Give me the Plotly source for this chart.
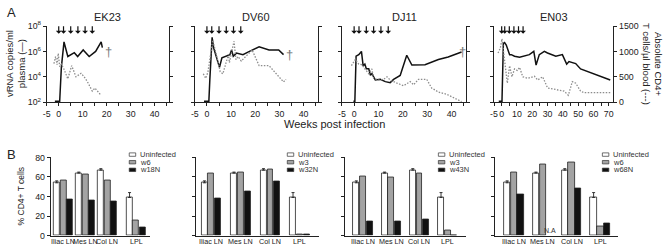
import numpy as np
import plotly.graph_objects as go

W, H = 664, 251
FONT = "Liberation Sans, Arial, sans-serif"

# ---------------- Panel A data ----------------
animals = ["EK23", "DV60", "DJ11", "EN03"]
inoculation_weeks = [0, 2, 5, 8, 11, 14]

ek23_vl_wk = [-1.6, 0.4, 1.1, 2.2, 3.8, 6.5, 7.9, 10.2, 12.7, 15.4, 17.7, 18.2]
ek23_vl = [1.2e2, 1.2e2, 5.6e4, 5.6e6, 4.0e5, 8.0e5, 4.0e5, 1.3e6, 4.0e5, 1.0e6, 5.6e6, 2.0e6]
ek23_cd4_wk = [-2, -1.3, -0.7, -0.2, 0.4, 1.1, 2.2, 3.8, 5.4, 7.2, 9.3, 10.6, 12, 14, 15.1, 17.4]
ek23_cd4 = [760, 900, 740, 960, 700, 750, 650, 460, 720, 500, 570, 500, 400, 220, 280, 150]

dv60_vl_wk = [-1.2, 0.8, 1.2, 2.15, 2.8, 5.2, 6.2, 8.2, 9.5, 10.2, 10.9, 12.2, 14.9, 17.6, 21.6, 25.7, 29.7, 31.7]
dv60_vl = [1.2e2, 1.2e2, 5.6e3, 1.3e7, 1.8e6, 5.6e4, 3.2e5, 4.2e5, 5.6e5, 1.3e6, 4.2e5, 7.4e5,
           5.6e5, 1.0e6, 2.3e6, 1.3e6, 1.3e6, 5.6e5]
dv60_cd4_wk = [-1.5, -0.5, 0.4, 2.4, 3.9, 5.5, 6.6, 8.9, 9.3, 10.2, 11.2, 12, 12.9, 14.2, 18.7, 21.6, 25.7, 31.7, 32.7]
dv60_cd4 = [560, 470, 590, 1220, 940, 600, 560, 940, 780, 1000, 1200, 840, 900, 810, 1030, 720, 720, 400, 450]

dj11_vl_wk = [-0.3, 0.3, 0.8, 1.9, 3.0, 3.7, 4.4, 5.0, 6.0, 6.7, 7.3, 8.7, 10.7, 12.8, 14.8, 16.2,
              18.9, 21.6, 23.7, 29.1, 34.6, 38.6, 44.1]
dj11_vl = [1.2e2, 1.2e2, 4.2e5, 5.6e5, 1.0e6, 7.4e4, 1.0e5, 4.3e4, 4.3e4, 1.3e4, 1.8e4, 5.6e3, 6.3e3,
           4.2e3, 3.5e3, 6.3e3, 1.3e4, 5.0e5, 8.5e4, 8.9e4, 2.3e5, 3.7e5, 8.9e5]
dj11_cd4_wk = [-1.1, 0.5, 1.9, 3.3, 4.4, 5.3, 6.0, 7.3, 8.0, 10.1, 12.1, 13.5, 14.8, 17.6, 20.3, 23.0,
               24.4, 26.4, 29.8, 31.8, 34.6, 38.0, 40.7, 44.1]
dj11_cd4 = [719, 844, 750, 737, 656, 594, 562, 656, 469, 437, 450, 500, 437, 375, 325, 406,
            343, 450, 450, 281, 200, 156, 94, 12]

en03_vl_wk = [-1.9, 0.2, 1.1, 1.9, 3.0, 5.2, 6.3, 8.4, 11.7, 14.9, 18.1, 21.0, 22.5, 24.6, 27.9, 30.0,
              32.2, 35.4, 39.7, 42.5, 44.0, 48.4, 51.6, 60.3, 71.0]
en03_vl = [1.2e2, 1.2e2, 4.3e6, 5.0e6, 3.2e6, 5.6e5, 5.6e5, 4.2e5, 3.5e5, 4.2e5, 5.6e5, 1.0e6, 8.5e4,
           5.6e5, 1.0e6, 7.5e5, 5.6e5, 4.2e5, 5.6e5, 1.0e5, 1.6e5, 1.1e5, 4.2e4, 1.8e4, 5.6e3]
en03_cd4_wk = [-2.4, -0.9, 0.2, 1.3, 2.4, 3.7, 5.2, 6.7, 8.4, 10.2, 11.7, 13.8, 17.1, 21.4, 23.5, 26.8,
               30.0, 35.4, 40.8, 43.6, 46.2, 48.4, 51.6, 53.8, 71.0]
en03_cd4 = [969, 1062, 1250, 1000, 656, 375, 719, 500, 656, 625, 687, 500, 469, 512, 437, 500,
            281, 250, 219, 137, 406, 375, 219, 187, 187]

vl_weeks = [ek23_vl_wk, dv60_vl_wk, dj11_vl_wk, en03_vl_wk]
vl_values = [ek23_vl, dv60_vl, dj11_vl, en03_vl]
cd4_weeks = [ek23_cd4_wk, dv60_cd4_wk, dj11_cd4_wk, en03_cd4_wk]
cd4_values = [ek23_cd4, dv60_cd4, dj11_cd4, en03_cd4]
death_week = [20.8, 34.1, 44.4, None]
death_vl = [1.0e6, 5.6e5, 1.0e6, None]
week_max = [46, 46, 46, 73]

log_tickvals = [1e2, 1e4, 1e6, 1e8]
log_ticktext = ["10<sup>2</sup>", "10<sup>4</sup>", "10<sup>6</sup>", "10<sup>8</sup>"]
cd4_ticks = [0, 500, 1000, 1500]

# ---------------- Panel B data ----------------
tissues = ["Iliac LN", "Mes LN", "Col LN", "LPL"]
uninfected = [54, 64, 67, 39]
uninfected_err = [2, 1, 1.5, 5]
early_labels = ["w6", "w3", "w3", "w6"]
early_values = [[56, 63, 56, 15], [64, 65, 68, 1.5], [61, 60, 64, 5], [65, 73, 75, 9]]
late_labels = ["w18N", "w32N", "w43N", "w68N"]
late_values = [[37, 36, 35, 8], [38, 45, 55, 1], [14, 14, 16, 0], [42, None, 48, 12]]
pct_ticks = [0, 20, 40, 60, 80]

# ---------------- layout geometry (pixels) ----------------
A_x = [(43, 166), (192, 316), (340, 465), (493, 613)]
A_y = (20, 100)
B_x = [(47, 147), (193, 317), (343, 465), (494, 618)]
B_y = (158, 240)
B_zero = [59.7, 208.5, 361, 513]
B_pitch = [22.2, 29.7, 28.4, 29]
B_pos = [[0, 1, 2, 3.3], [0, 1, 2, 3], [0, 1, 2, 3], [0, 1, 2, 3]]
B_width = [0.27, 0.2, 0.21, 0.22]
B_offsets = [[-0.435, -0.135, 0.165], [-0.33, -0.1, 0.13], [-0.335, -0.1, 0.135], [-0.345, -0.11, 0.125]]
leg_x = [126, 285, 437, 602]
leg_rows = [155, 163, 171]


def fx(p):
    return p / W


def fy(p):
    return 1 - p / H


def ax_id(letter, n):
    return letter if n == 1 else f"{letter}{n}"


def ax_key(letter, n):
    return f"{letter}axis" if n == 1 else f"{letter}axis{n}"


fig = go.Figure()
layout = {}
annotations = []
shapes = []

axis_common = dict(showline=True, linecolor="#222", linewidth=1, ticks="outside", ticklen=3,
                   tickcolor="#222", showgrid=False, zeroline=False,
                   tickfont=dict(family=FONT, size=8.8, color="#222"))

for i in range(4):
    n = i + 1
    xa, ya, ya2 = ax_id("x", n), ax_id("y", n), ax_id("y", n + 4)
    fig.add_trace(go.Scatter(x=cd4_weeks[i], y=cd4_values[i], xaxis=xa, yaxis=ya2, mode="lines",
                             line=dict(color="#8c8c8c", width=1.3, dash="1.5px,1.5px"), showlegend=False))
    fig.add_trace(go.Scatter(x=vl_weeks[i], y=vl_values[i], xaxis=xa, yaxis=ya, mode="lines",
                             line=dict(color="#111", width=1.5), showlegend=False))
    tv = list(range(-5, week_max[i], 5))
    tt = [str(v) if (v == -5 or v % 10 == 0) else "" for v in tv]
    layout[ax_key("x", n)] = dict(axis_common, domain=[fx(A_x[i][0]), fx(A_x[i][1])], anchor=ya,
                                  range=[-5, week_max[i]], tickvals=tv, ticktext=tt, tickangle=0)
    layout[ax_key("y", n)] = dict(axis_common, domain=[fy(A_y[1]), fy(A_y[0])], anchor=xa, type="log",
                                  range=[2, 8], tickvals=log_tickvals, ticktext=log_ticktext,
                                  showticklabels=(i == 0))
    layout[ax_key("y", n + 4)] = dict(axis_common, overlaying=ya, side="right", anchor=xa,
                                      range=[0, 1500], tickvals=cd4_ticks, showticklabels=(i == 3))
    annotations.append(dict(text=animals[i], x=(fx(A_x[i][0]) + fx(A_x[i][1])) / 2, y=fy(10),
                            xref="paper", yref="paper", showarrow=False, xanchor="center",
                            yanchor="middle", font=dict(family=FONT, size=11, color="#222")))
    for wk in inoculation_weeks:
        annotations.append(dict(x=wk, y=0.9, xref=xa, yref=f"{ya} domain", text="", showarrow=True,
                                ax=0, ay=-9, arrowhead=1, arrowsize=0.8, arrowwidth=1.2,
                                arrowcolor="#111"))
    if death_week[i] is not None:
        annotations.append(dict(x=death_week[i], y=np.log10(death_vl[i]), xref=xa, yref=ya,
                                text="†", showarrow=False, font=dict(family=FONT, size=13, color="#7a7a7a")))

for j in range(4):
    n = j + 5
    xa, ya = ax_id("x", n), ax_id("y", n + 4)
    x0, x1 = B_x[j]
    rng = [(x0 - B_zero[j]) / B_pitch[j], (x1 - B_zero[j]) / B_pitch[j]]
    series = [
        (uninfected, "white", uninfected_err),
        (early_values[j], "#a3a3a3", None),
        (late_values[j], "#111", None),
    ]
    for k, (vals, col, err) in enumerate(series):
        tr = go.Bar(x=B_pos[j], y=vals, xaxis=xa, yaxis=ya, width=B_width[j], offset=B_offsets[j][k],
                    marker=dict(color=col, line=dict(color="#222", width=0.8)), showlegend=False)
        if err is not None:
            tr.error_y = dict(type="data", array=err, arrayminus=[0] * 4, symmetric=False,
                              color="#222", thickness=0.9, width=1.5)
        fig.add_trace(tr)
    layout[ax_key("x", n)] = dict(axis_common, domain=[fx(x0), fx(x1)], anchor=ya, range=rng,
                                  tickvals=B_pos[j], ticks="", showticklabels=False)
    layout[ax_key("y", n + 4)] = dict(axis_common, domain=[fy(B_y[1]), fy(B_y[0])], anchor=xa,
                                      range=[0, 80], tickvals=pct_ticks, showticklabels=(j == 0))
    # category labels under the groups
    for p, lab in zip(B_pos[j], tissues):
        annotations.append(dict(text=lab, x=p, y=fy(246), xref=xa, yref="paper", showarrow=False,
                                xanchor="center", yanchor="middle",
                                font=dict(family=FONT, size=7.2, color="#222")))
    # legend
    names = ["Uninfected", early_labels[j], late_labels[j]]
    fills = ["white", "#a3a3a3", "#111"]
    for r in range(3):
        yc = leg_rows[r]
        shapes.append(dict(type="rect", xref="paper", yref="paper", x0=fx(leg_x[j]), x1=fx(leg_x[j] + 6.5),
                           y0=fy(yc + 1.8), y1=fy(yc - 1.8), fillcolor=fills[r],
                           line=dict(color="#333", width=0.7)))
        annotations.append(dict(text=names[r], x=fx(leg_x[j] + 8.5), y=fy(yc), xref="paper", yref="paper",
                                showarrow=False, xanchor="left", yanchor="middle",
                                font=dict(family=FONT, size=7.5, color="#333")))

# N.A. marker on missing bar
annotations.append(dict(text="N.A", x=B_pos[3][1] + B_offsets[3][2] + B_width[3] / 2, y=0,
                        xref="x8", yref="y12", showarrow=False, yanchor="bottom", xanchor="center",
                        font=dict(family=FONT, size=7, color="#333")))

# axis titles & panel letters
annotations += [
    dict(text="A", x=fx(1), y=fy(6), xref="paper", yref="paper", showarrow=False, xanchor="left",
         yanchor="middle", font=dict(family=FONT, size=13, color="#222")),
    dict(text="B", x=fx(1), y=fy(155), xref="paper", yref="paper", showarrow=False, xanchor="left",
         yanchor="middle", font=dict(family=FONT, size=13, color="#222")),
    dict(text="vRNA copies/ml<br>plasma (—)", x=fx(11), y=fy(59), xref="paper", yref="paper",
         showarrow=False, textangle=-90, xanchor="center", yanchor="middle",
         font=dict(family=FONT, size=9.5, color="#222")),
    dict(text="Absolute CD4+<br>T cells/µl blood (---)", x=fx(653), y=fy(60), xref="paper", yref="paper",
         showarrow=False, textangle=90, xanchor="center", yanchor="middle",
         font=dict(family=FONT, size=9.5, color="#222")),
    dict(text="Weeks post infection", x=fx(333), y=fy(123), xref="paper", yref="paper",
         showarrow=False, xanchor="center", yanchor="middle", font=dict(family=FONT, size=11, color="#222")),
    dict(text="% CD4+ T cells", x=fx(17), y=fy(198), xref="paper", yref="paper",
         showarrow=False, textangle=-90, xanchor="center", yanchor="middle",
         font=dict(family=FONT, size=8.5, color="#222")),
]

fig.update_layout(**layout)
fig.update_layout(width=W, height=H, margin=dict(l=0, r=0, t=0, b=0), paper_bgcolor="white",
                  plot_bgcolor="rgba(0,0,0,0)", showlegend=False, annotations=annotations, shapes=shapes,
                  bargap=0, font=dict(family=FONT, color="#222"))
fig.write_html("out.html", config={"displayModeBar": False},
               post_script="document.body.style.margin='0';document.body.style.padding='0';"
                           "document.body.style.overflow='hidden';")
